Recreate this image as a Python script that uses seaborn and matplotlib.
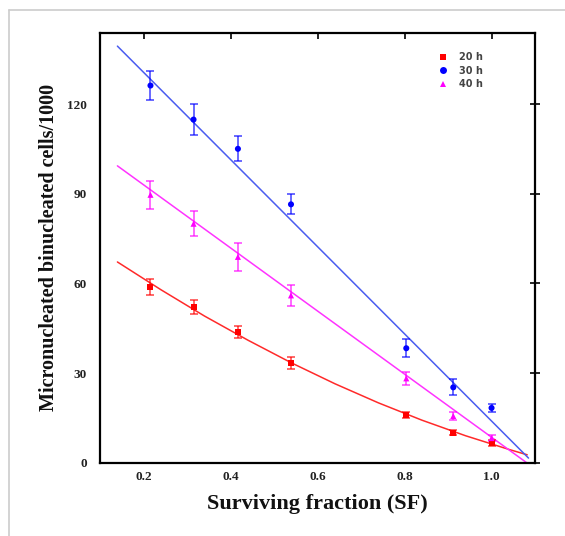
import matplotlib
matplotlib.use("Agg")
import matplotlib.pyplot as plt
from matplotlib.lines import Line2D
import numpy as np
import pandas as pd
import seaborn as sns

# Surviving fraction at each measurement
sf = [0.216, 0.315, 0.417, 0.539, 0.804, 0.912, 1.0]

# Micronucleated binucleated cells per 1000 and their error bars
mn_20h = [58.8, 52.0, 43.7, 33.3, 15.8, 10.0, 6.4]
err_20h = [2.8, 2.3, 2.0, 2.0, 1.0, 0.9, 1.0]
mn_30h = [126.3, 114.9, 105.1, 86.5, 38.3, 25.2, 18.3]
err_30h = [5.0, 5.2, 4.2, 3.3, 3.0, 2.7, 1.2]
mn_40h = [89.7, 80.0, 68.9, 56.0, 28.2, 15.6, 8.2]
err_40h = [4.6, 4.2, 4.6, 3.6, 2.2, 1.2, 1.1]

# Fitted dose-response curves
fit_x_20h = [0.14, 0.24, 0.34, 0.44, 0.54, 0.64, 0.74, 0.84, 0.94, 1.04, 1.082]
fit_y_20h = [67.2, 57.9, 49.1, 41.0, 33.4, 26.4, 20.0, 14.2, 9.0, 4.4, 2.6]
fit_x_30h = [0.14, 1.085]
fit_y_30h = [139.5, 1.5]
fit_x_40h = [0.14, 1.085]
fit_y_40h = [99.4, -0.5]

groups = ["20 h", "30 h", "40 h"]
colors = {"20 h": "#ff0000", "30 h": "#0000ff", "40 h": "#ff00ff"}
line_colors = {"20 h": "#ff2a2a", "30 h": "#4a5cf0", "40 h": "#ff33ff"}
markers = {"20 h": "s", "30 h": "o", "40 h": "^"}

pts = pd.DataFrame({
    "sf": sf * 3,
    "mn": mn_20h + mn_30h + mn_40h,
    "err": err_20h + err_30h + err_40h,
    "time": sum([[g] * len(sf) for g in groups], []),
})
fits = pd.DataFrame({
    "x": fit_x_20h + fit_x_30h + fit_x_40h,
    "y": fit_y_20h + fit_y_30h + fit_y_40h,
    "time": ["20 h"] * len(fit_x_20h) + ["30 h"] * len(fit_x_30h) + ["40 h"] * len(fit_x_40h),
})

sns.set_theme(style="white")
plt.rcParams["font.family"] = ["Liberation Serif", "DejaVu Serif"]

fig = plt.figure(figsize=(5.65, 5.36), dpi=100)
ax = fig.add_axes([0.177, 0.137, 0.770, 0.802])

sns.lineplot(data=fits, x="x", y="y", hue="time", palette=line_colors,
             sort=False, estimator=None, lw=1.1, legend=False, ax=ax, zorder=2)

for g in groups:
    sub = pts[pts["time"] == g]
    ax.errorbar(sub["sf"], sub["mn"], yerr=sub["err"], fmt="none",
                ecolor=colors[g], elinewidth=1.1, capsize=3, capthick=1.1,
                alpha=0.75, zorder=3)

sns.scatterplot(data=pts, x="sf", y="mn", hue="time", style="time",
                palette=colors, markers=markers, s=19, linewidth=0,
                ax=ax, zorder=4)

ax.set_xlim(0.1, 1.1)
ax.set_ylim(0, 144)
ax.set_xticks([0.2, 0.4, 0.6, 0.8, 1.0])
ax.set_xticklabels(["0.2", "0.4", "0.6", "0.8", "1.0"])
ax.set_yticks([0, 30, 60, 90, 120])
ax.set_yticklabels(["0", "30", "60", "90", "120"])
ax.tick_params(axis="both", which="both", direction="in", length=4, width=1.2,
               color="black", top=True, right=True, labelsize=9.5, pad=6)
ax.tick_params(axis="y", direction="inout", length=7)
for lab in ax.get_xticklabels() + ax.get_yticklabels():
    lab.set_fontweight("bold")
    lab.set_color("#222222")
for s in ax.spines.values():
    s.set_color("black")
    s.set_linewidth(1.6)

ax.set_xlabel("Surviving fraction (SF)", fontsize=16, fontweight="bold",
              labelpad=8, color="#111111")
ax.set_ylabel("Micronucleated binucleated cells/1000", fontsize=14.5,
              fontweight="bold", labelpad=6, color="#111111")

leg = ax.legend(loc="upper right", bbox_to_anchor=(0.9, 0.975), frameon=False,
                handletextpad=0.6, labelspacing=0.35, markerscale=1.15,
                prop={"family": "DejaVu Sans", "size": 7, "weight": "bold"})
for t in leg.get_texts():
    t.set_color("#444444")

# thin grey border of the figure panel
fig.add_artist(Line2D([9 / 565, 9 / 565], [0, 1 - 10 / 536], color="#cccccc", lw=1.2))
fig.add_artist(Line2D([9 / 565, 1], [1 - 10 / 536, 1 - 10 / 536], color="#cccccc", lw=1.2))

fig.savefig("out.png", dpi=100)
